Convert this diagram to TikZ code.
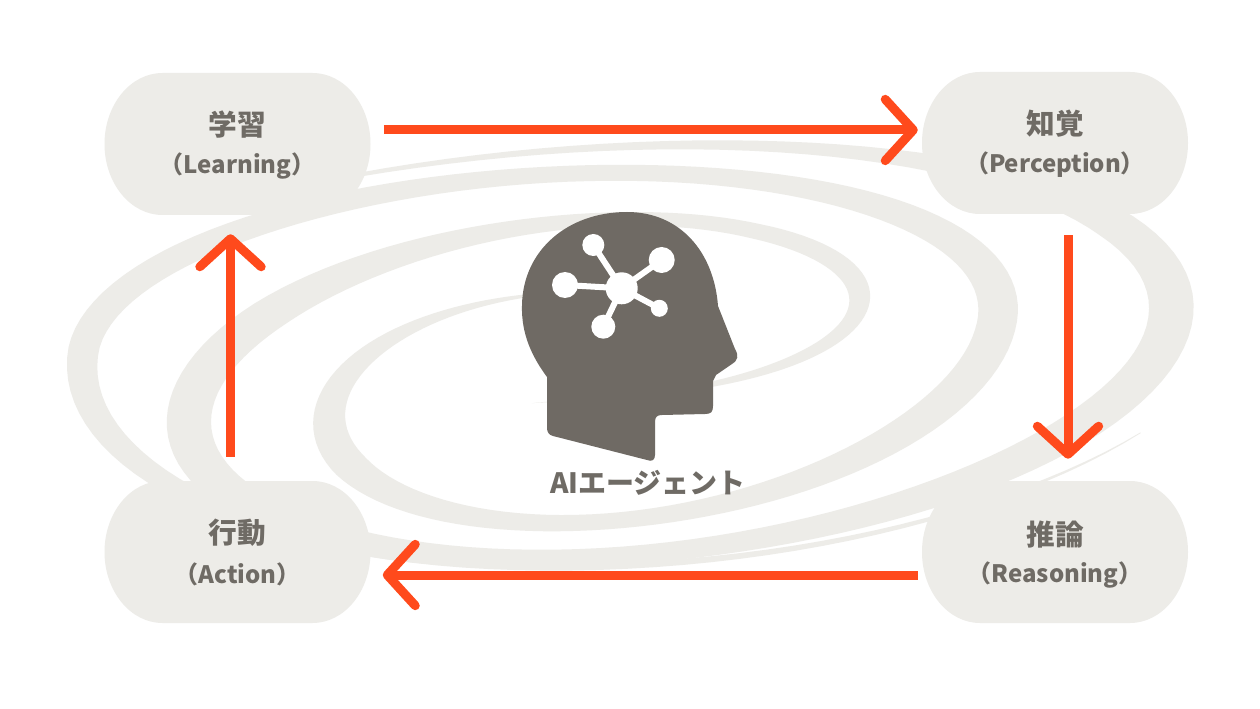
\documentclass[tikz,border=0pt]{standalone}
\usepackage{fontspec}
\setmainfont{Noto Sans CJK JP}
\usetikzlibrary{arrows.meta,calc}
\definecolor{bandc}{HTML}{EDECE8}
\definecolor{inkc}{HTML}{6F6B65}
\definecolor{headc}{HTML}{6F6A64}
\definecolor{arrowc}{HTML}{FF4A1C}
\newcommand\titlef{\bfseries\fontsize{21.5pt}{24pt}\selectfont}
\newcommand\subf{\bfseries\fontsize{18pt}{21pt}\selectfont}
\newcommand\agentf{\bfseries\fontsize{21pt}{24pt}\selectfont}
\newcommand\pillshape[2]{\fill[bandc,shift={(#1,#2)}] (-75,-71) -- (75,-71) arc[start angle=-90,end angle=90,x radius=58,y radius=71] -- (-75,71) arc[start angle=90,end angle=270,x radius=58,y radius=71] -- cycle;}
\begin{document}
\begin{tikzpicture}[x=0.75pt,y=-0.75pt,
  declare function={
    aA(\t)=270+0.69*(\t-180);
    bA(\t)=210-138.5*exp(-(\t-90)/183);
    sA(\t)=-38+0.29*min(max(\t-360,0),180)-0.35*max(\t-540,0);
    wA(\t)=(40-0.1*max(\t-450,0))*(0.7+0.3*cos(2*\t))*min(1,(\t-90)/120)*min(1,(695-\t)/80);
    aB(\t)=253+0.8727*\t;
    bB(\t)=235-200*exp(-(\t+90)/229);
    sB(\t)=-38-20*max(0,(60-\t)/120);
    wB(\t)=45*(0.7+0.3*cos(2*\t))*min(1,(\t+118)/268)*min(1,(490-\t)/100);
  },
  boxnode/.style={minimum width=199.5pt,minimum height=106.5pt,inner sep=0pt},
  titletext/.style={text=inkc,font=\titlef,inner sep=0pt},
  subtext/.style={text=inkc,font=\subf,inner sep=0pt},
  arrowline/.style={draw=arrowc,line width=6.75pt,-{Straight Barb[length=21pt,width=46pt,round]}},
  spoke/.style={draw=white,line width=4.5pt}
]
\useasboundingbox (0,0) rectangle (1260,709);
\fill[white] (0,0) rectangle (1260,709);

% spiral arm A
\fill[bandc] plot[domain=90:690,samples=220,variable=\t]
  ({602+(aA(\t)+0.5*wA(\t))*cos(\t)},{363.5-(bA(\t)+0.5*wA(\t))*sin(\t)+sA(\t)*cos(\t)})
  -- plot[domain=90:690,samples=220,variable=\t]
  ({602+(aA(780-\t)-0.5*wA(780-\t))*cos(780-\t)},{363.5-(bA(780-\t)-0.5*wA(780-\t))*sin(780-\t)+sA(780-\t)*cos(780-\t)})
  -- cycle;
% spiral arm B
\fill[bandc] plot[domain=-118:480,samples=220,variable=\t]
  ({602+(aB(\t)+0.5*wB(\t))*cos(\t)},{363.5-(bB(\t)+0.5*wB(\t))*sin(\t)+sB(\t)*cos(\t)})
  -- plot[domain=-118:480,samples=220,variable=\t]
  ({602+(aB(362-\t)-0.5*wB(362-\t))*cos(362-\t)},{363.5-(bB(362-\t)-0.5*wB(362-\t))*sin(362-\t)+sB(362-\t)*cos(362-\t)})
  -- cycle;

% boxes
\pillshape{237.5}{144}
\pillshape{1055}{143}
\pillshape{237.5}{552}
\pillshape{1055}{552}
\node[boxnode] (learn) at (237.5,144) {};
\node[boxnode] (percep) at (1055,143) {};
\node[boxnode] (act) at (237.5,552) {};
\node[boxnode] (reason) at (1055,552) {};

\node[titletext] (learnT) at ($(learn)+(0,-19)$) {学習};
\node[subtext] (learnS) at ($(learn)+(0,22)$) {（Learning）};
\node[titletext] (percepT) at ($(percep)+(0,-19)$) {知覚};
\node[subtext] (percepS) at ($(percep)+(0,22)$) {（Perception）};
\node[titletext] (actT) at ($(act)+(0,-19)$) {行動};
\node[subtext] (actS) at ($(act)+(0,22)$) {（Action）};
\node[titletext] (reasonT) at ($(reason)+(0,-17)$) {推論};
\node[subtext] (reasonS) at ($(reason)+(0,23)$) {（Reasoning）};

% arrows
\draw[arrowline] ($(learn.east)+(13,-14)$) -- ($(percep.west)+(-4,-13)$);
\draw[arrowline] ($(percep.south)+(13,21)$) -- ($(reason.north)+(13,-22)$);
\draw[arrowline] ($(reason.west)+(-4,23)$) -- ($(act.east)+(12,23)$);
\draw[arrowline] ($(act.north)+(-7,-24)$) -- ($(learn.south)+(-7,19)$);

% head
\fill[headc] (547,377)
  .. controls (533,358) and (521,335) .. (522,305)
  .. controls (523,250) and (568,212) .. (627,212)
  .. controls (680,212) and (714,252) .. (718,306)
  -- (735,349)
  .. controls (739,356) and (738,360) .. (732,364)
  -- (716,375) -- (713,381)
  -- (713,406) .. controls (713,412) and (711,414) .. (705,414)
  -- (662,415) .. controls (657,415) and (655,417) .. (655,422)
  -- (655,455) .. controls (655,460) and (652,462) .. (647,460)
  -- (553,436) .. controls (549,435) and (547,432) .. (547,428)
  -- cycle;
% network icon
\coordinate (hub) at (621.7,288.3);
\coordinate (nTL) at (593.3,245);
\coordinate (nTR) at (661.7,260);
\coordinate (nL) at (565,285);
\coordinate (nR) at (659.3,308.3);
\coordinate (nB) at (603.3,326.7);
\draw[spoke] (hub) -- (nTL);
\draw[spoke] (hub) -- (nTR);
\draw[spoke] (hub) -- (nL);
\draw[spoke] (hub) -- (nR);
\draw[spoke] (hub) -- (nB);
\fill[white] (hub) circle[radius=16];
\fill[white] (nTL) circle[radius=11];
\fill[white] (nTR) circle[radius=13];
\fill[white] (nL) circle[radius=13];
\fill[white] (nR) circle[radius=8.5];
\fill[white] (nB) circle[radius=12];

\node[text=inkc,font=\agentf,inner sep=0pt] (agent) at (648,483) {AIエージェント};
\end{tikzpicture}
\end{document}
